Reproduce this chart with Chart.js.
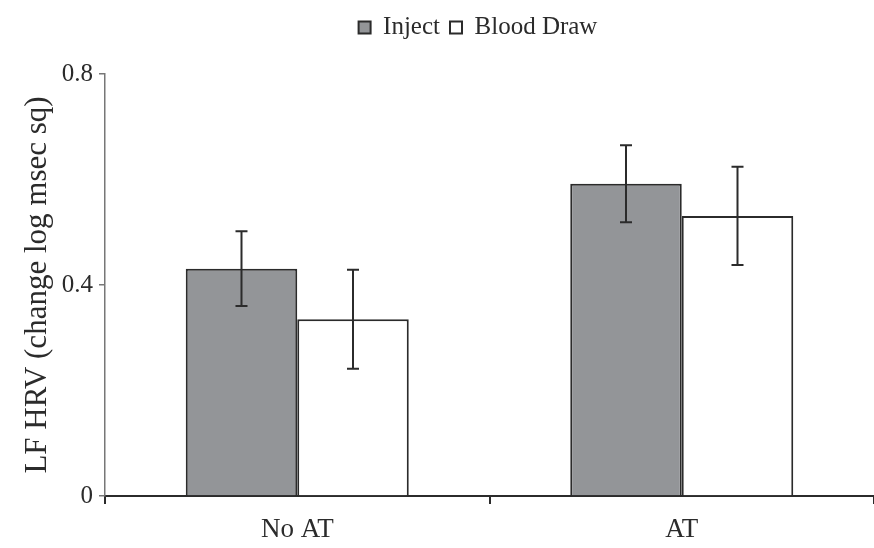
<!DOCTYPE html>
<html>
<head>
<meta charset="utf-8">
<script src="https://cdn.jsdelivr.net/npm/chart.js@4.4.0/dist/chart.umd.min.js"></script>
<style>
  html, body { margin: 0; padding: 0; background: #fff; }
  .chart-wrapper { width: 874px; height: 548px; }
</style>
</head>
<body>
<div class="chart-wrapper">
  <canvas id="hrvChart" width="874" height="548"></canvas>
</div>
<script>
// data
const groups = ['No AT', 'AT'];
const injectValues = [0.431, 0.592];
const injectErrors = [0.071, 0.073];
const bloodDrawValues = [0.335, 0.531];
const bloodDrawErrors = [0.094, 0.093];
const yTicks = [0, 0.4, 0.8];

const serif = '"Liberation Serif", "DejaVu Serif", serif';
const ink = '#2b2b2b';

// draws the vertical error bars with caps on top of each bar
const errorBarPlugin = {
  id: 'errorBars',
  afterDatasetsDraw(chart) {
    const ctx = chart.ctx;
    const yScale = chart.scales.y;
    chart.data.datasets.forEach((ds, i) => {
      const meta = chart.getDatasetMeta(i);
      meta.data.forEach((bar, j) => {
        const v = ds.data[j];
        const e = ds.errors[j];
        const top = yScale.getPixelForValue(v + e);
        const bottom = yScale.getPixelForValue(v - e);
        ctx.save();
        ctx.strokeStyle = ink;
        ctx.lineWidth = 2;
        ctx.beginPath();
        ctx.moveTo(bar.x, top);
        ctx.lineTo(bar.x, bottom);
        ctx.moveTo(bar.x - 6, top);
        ctx.lineTo(bar.x + 6, top);
        ctx.moveTo(bar.x - 6, bottom);
        ctx.lineTo(bar.x + 6, bottom);
        ctx.stroke();
        ctx.restore();
      });
    });
  }
};

// extra room under the legend, and nudge it right like the original
const legendSpace = {
  id: 'legendSpace',
  beforeInit(chart) {
    const fit = chart.legend.fit;
    chart.legend.fit = function () {
      fit.bind(chart.legend)();
      this.height += 24;
    };
  },
  afterLayout(chart) {
    chart.legend.left += 82;
  }
};

const ctx = document.getElementById('hrvChart').getContext('2d');
new Chart(ctx, {
  type: 'bar',
  data: {
    labels: groups,
    datasets: [
      {
        label: 'Inject',
        data: injectValues,
        errors: injectErrors,
        backgroundColor: '#939598',
        borderColor: ink,
        borderWidth: 2,
        borderSkipped: 'bottom',
      },
      {
        label: 'Blood Draw',
        data: bloodDrawValues,
        errors: bloodDrawErrors,
        backgroundColor: '#ffffff',
        borderColor: ink,
        borderWidth: 2,
        borderSkipped: 'bottom',
      },
    ],
  },
  options: {
    responsive: false,
    animation: false,
    layout: { padding: { top: 5, right: 0, left: 0, bottom: 0 } },
    datasets: {
      bar: { categoryPercentage: 0.58, barPercentage: 1.0 },
    },
    plugins: {
      tooltip: { enabled: false },
      legend: {
        display: true,
        position: 'top',
        labels: {
          boxWidth: 12,
          boxHeight: 12,
          padding: 10,
          color: ink,
          font: { family: serif, size: 25 },
        },
      },
    },
    scales: {
      x: {
        afterFit: (axis) => { axis.height = 52; },
        grid: {
          offset: true,
          drawOnChartArea: false,
          drawTicks: true,
          tickLength: 8,
          color: ink,
          lineWidth: 2,
        },
        border: { color: ink, width: 2 },
        ticks: {
          color: ink,
          padding: 10,
          font: { family: serif, size: 27 },
        },
      },
      y: {
        min: 0,
        max: 0.8,
        afterBuildTicks: (axis) => {
          axis.ticks = yTicks.map(v => ({ value: v }));
        },
        afterFit: (axis) => { axis.width = 105; },
        grid: {
          drawOnChartArea: false,
          drawTicks: true,
          tickLength: 6,
          color: '#777',
          lineWidth: 1.5,
        },
        border: { color: '#777', width: 1.5 },
        ticks: {
          color: ink,
          padding: 6,
          font: { family: serif, size: 25 },
          callback: (v) => (v === 0 ? '0' : v.toFixed(1)),
        },
        title: {
          display: true,
          text: 'LF HRV (change log msec sq)',
          color: ink,
          padding: { top: 19, bottom: 0 },
          font: { family: serif, size: 31 },
        },
      },
    },
  },
  plugins: [errorBarPlugin, legendSpace],
});
</script>
</body>
</html>
